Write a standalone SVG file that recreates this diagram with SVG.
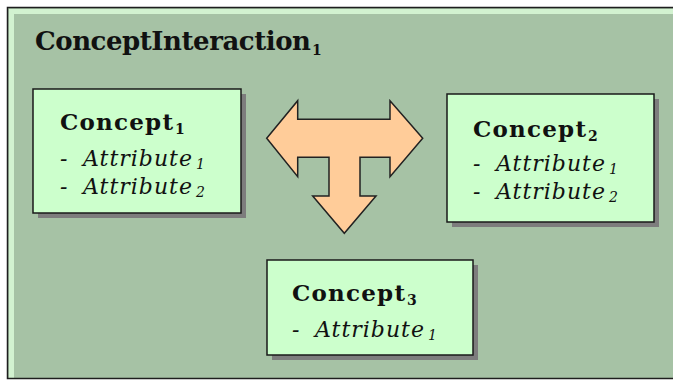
<svg xmlns="http://www.w3.org/2000/svg" width="673" height="381" viewBox="0 0 673 381">
  <style>
    .bg { fill: #A6C2A5; }
    .frame { fill: none; stroke: #1e1e1e; stroke-width: 1.5; }
    .hl { fill: #D2F2D0; }
    .box { fill: #CCFFCC; stroke: #1a1a1a; stroke-width: 1.5; }
    .shadow { fill: #7d7d7d; }
    .arrow { fill: #FFCC99; stroke: #222; stroke-width: 1.5; stroke-linejoin: miter; }
    .title { font-family: "DejaVu Serif", "Liberation Serif", serif; font-weight: bold; font-size: 26px; fill: #111; }
    .cname { font-family: "DejaVu Serif", "Liberation Serif", serif; font-weight: bold; font-size: 23px; fill: #111; }
    .attr { font-family: "DejaVu Serif", "Liberation Serif", serif; font-style: italic; font-size: 22px; fill: #111; }
    .sub { font-size: 14px; }
  </style>
  <rect x="0" y="0" width="673" height="381" fill="#ffffff"/>
  <g id="frame">
    <rect class="bg" x="8" y="8" width="670" height="370"/>
    <rect class="hl" x="9" y="9" width="664" height="5"/>
    <rect class="hl" x="9" y="9" width="5" height="369"/>
    <rect class="frame" x="7.5" y="7.5" width="680" height="371"/>
    <text class="title" x="35" y="50" textLength="276" lengthAdjust="spacing">ConceptInteraction</text>
    <text class="title sub" x="312" y="55" font-size="16px">1</text>
  </g>
  <g id="connectors">
    <path class="arrow" d="M266.7,138.3 L297.7,100.7 L297.7,119.3 L390,119.3 L390,100.7 L422.7,138.3 L390,176.7 L390,157.3 L360,157.3 L360,196 L376,196 L344.3,233.3 L312.7,196 L329,196 L329,157.3 L297.7,157.3 L297.7,176.7 Z"/>
  </g>
  <g id="concept1">
    <rect class="shadow" x="38" y="94" width="208" height="124"/>
    <rect class="box" x="33" y="89" width="208" height="124"/>
    <text class="cname" x="60" y="130" textLength="113" lengthAdjust="spacing">Concept</text>
    <text class="cname sub" x="175" y="134">1</text>
    <text class="attr" x="60" y="166">-</text>
    <text class="attr" x="83" y="166" textLength="109" lengthAdjust="spacing">Attribute</text>
    <text class="attr sub" x="196" y="169">1</text>
    <text class="attr" x="60" y="194">-</text>
    <text class="attr" x="83" y="194" textLength="109" lengthAdjust="spacing">Attribute</text>
    <text class="attr sub" x="196" y="197">2</text>
  </g>
  <g id="concept2">
    <rect class="shadow" x="452" y="99" width="207" height="128"/>
    <rect class="box" x="447" y="94" width="207" height="128"/>
    <text class="cname" x="473" y="137" textLength="113" lengthAdjust="spacing">Concept</text>
    <text class="cname sub" x="588" y="141">2</text>
    <text class="attr" x="473" y="171">-</text>
    <text class="attr" x="496" y="171" textLength="109" lengthAdjust="spacing">Attribute</text>
    <text class="attr sub" x="609" y="174">1</text>
    <text class="attr" x="473" y="199">-</text>
    <text class="attr" x="496" y="199" textLength="109" lengthAdjust="spacing">Attribute</text>
    <text class="attr sub" x="609" y="202">2</text>
  </g>
  <g id="concept3">
    <rect class="shadow" x="272" y="265" width="206" height="95"/>
    <rect class="box" x="267" y="260" width="206" height="95"/>
    <text class="cname" x="292" y="301" textLength="113" lengthAdjust="spacing">Concept</text>
    <text class="cname sub" x="407" y="305">3</text>
    <text class="attr" x="292" y="337">-</text>
    <text class="attr" x="315" y="337" textLength="109" lengthAdjust="spacing">Attribute</text>
    <text class="attr sub" x="428" y="340">1</text>
  </g>
</svg>
